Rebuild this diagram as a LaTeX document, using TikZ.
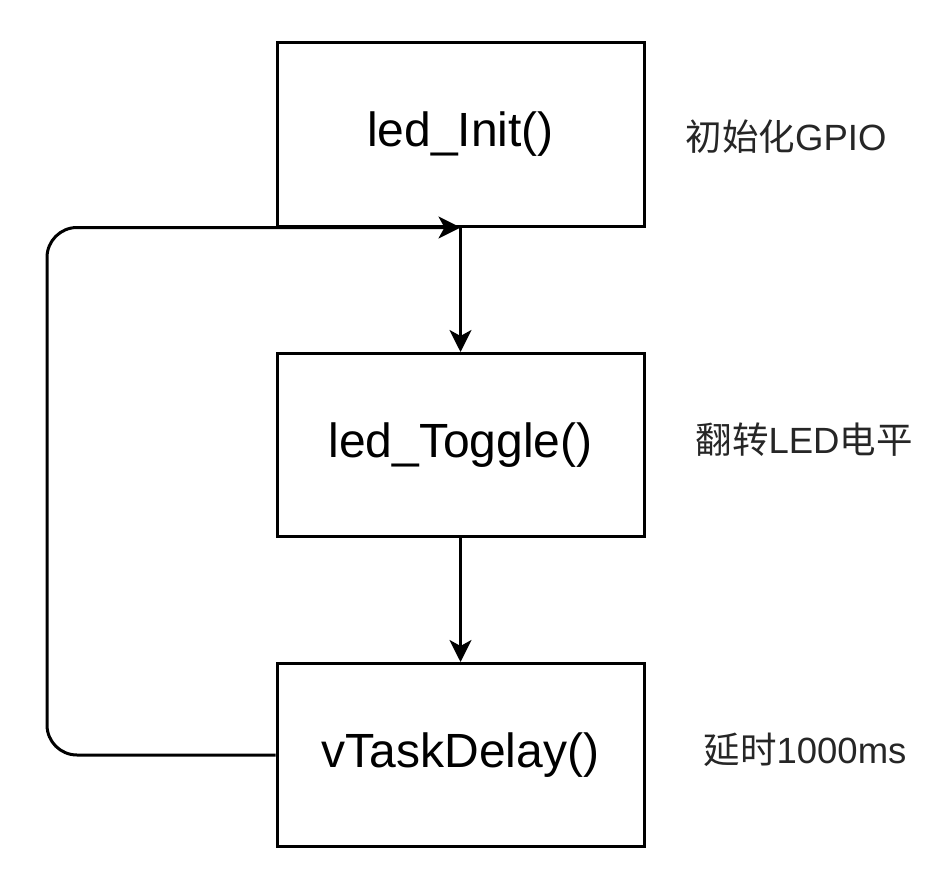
\documentclass[tikz,border=0pt]{standalone}
\usepackage{fontspec}
\setmainfont{Liberation Sans}
\newfontfamily\cjk{Noto Sans CJK SC}
\usetikzlibrary{arrows.meta}
\begin{document}
\begin{tikzpicture}[x=1pt,y=-1pt,
  box/.style={draw=black,line width=3pt,minimum width=367pt,minimum height=183pt,inner sep=0pt,font=\fontsize{48}{54}\selectfont},
  lbl/.style={inner sep=0pt,font=\fontsize{36.5}{42}\selectfont,text=black!85},
  arr/.style={line width=3pt,-{Stealth[length=22pt,width=22pt,inset=6pt]}}]
\useasboundingbox (0,0) rectangle (945,872);
\node[box] (b1) at (460.5,134.5) {led\_Init()};
\node[box] (b2) at (460.5,445) {led\_Toggle()};
\node[box] (b3) at (460.5,755) {vTaskDelay()};
\node[lbl] (l1) at (786,137) {{\cjk 初始化}GPIO};
\node[lbl] (l2) at (804,440) {{\cjk 翻转}LED{\cjk 电平}};
\node[lbl] (l3) at (805,750) {{\cjk 延时}1000ms};
\coordinate (cl) at (47,0);
\draw[arr] (b1.south) -- (b2.north);
\draw[arr] (b2.south) -- (b3.north);
\draw[arr,rounded corners=30pt] (b3.west) -- (b3.west -| cl) |- (b1.south);
\end{tikzpicture}
\end{document}
